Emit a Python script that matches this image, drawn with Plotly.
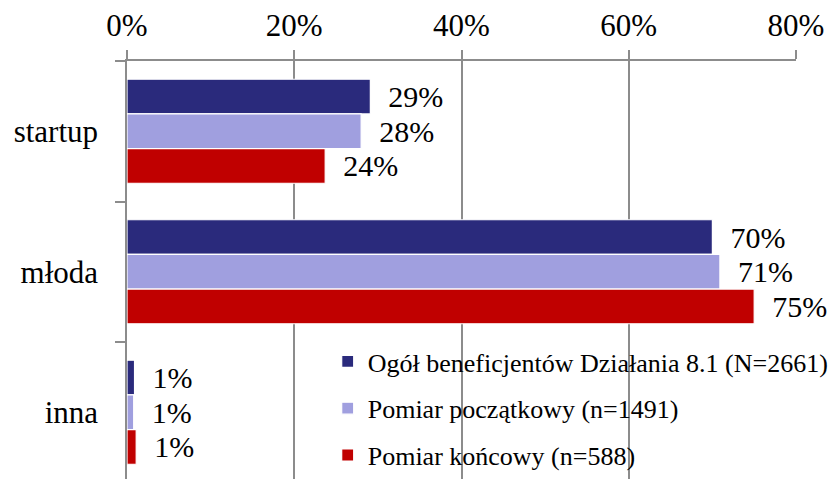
import plotly.graph_objects as go

categories = ["startup", "młoda", "inna"]
series_names = [
    "Ogół beneficjentów Działania 8.1 (N=2661)",
    "Pomiar początkowy (n=1491)",
    "Pomiar końcowy (n=588)",
]
ogol = [29.1, 70.0, 0.9]
poczatkowy = [28.0, 70.9, 0.8]
koncowy = [23.7, 75.0, 1.1]
x_ticks = [0, 20, 40, 60, 80]
x_tick_labels = ["0%", "20%", "40%", "60%", "80%"]

colors = ["#2A2A7C", "#A09FDF", "#C00000"]
FONT = "Liberation Serif"

fig = go.Figure()
for i, (name, vals) in enumerate(zip(series_names, [ogol, poczatkowy, koncowy])):
    fig.add_trace(go.Bar(
        y=categories, x=vals, name=name, orientation="h",
        marker=dict(color=colors[i], line=dict(color="white", width=1.2)),
        texttemplate="\u00a0\u00a0%{x:.0f}%", textposition="outside",
        textfont=dict(family=FONT, size=30, color="black"),
        cliponaxis=False, constraintext="none",
        legendgroup=f"g{i}",
    ))

fig.update_layout(
    width=831, height=471,
    margin=dict(l=119, r=43, t=53, b=0),
    paper_bgcolor="white", plot_bgcolor="white",
    barmode="group", bargap=0.26, bargroupgap=0.0,
    font=dict(family=FONT, size=30, color="black"),
    showlegend=True,
    legend=dict(
        x=0.30, y=0.337, xanchor="left", yanchor="top",
        bgcolor="rgba(0,0,0,0)", font=dict(family=FONT, size=26, color="black"),
        tracegroupgap=10, traceorder="grouped",
    ),
    xaxis=dict(
        side="top", range=[0, 80], tickvals=x_ticks, ticktext=x_tick_labels,
        showgrid=True, gridcolor="#8C8C8C", gridwidth=1.5,
        showline=True, linecolor="#8C8C8C", linewidth=1.5,
        ticks="outside", ticklen=9, tickcolor="#8C8C8C", tickwidth=1.5,
        ticklabelstandoff=2, zeroline=False, automargin=False,
        tickfont=dict(family=FONT, size=31, color="black"),
    ),
    yaxis=dict(
        range=[2.475, -0.5], type="category",
        showline=True, linecolor="#8C8C8C", linewidth=1.5,
        ticks="outside", ticklen=10, tickcolor="#8C8C8C", tickwidth=1.5,
        tickson="boundaries", showgrid=False, ticklabelstandoff=21,
        automargin=False,
        tickfont=dict(family=FONT, size=31, color="black"),
    ),
)

fig.write_html("out.html")
